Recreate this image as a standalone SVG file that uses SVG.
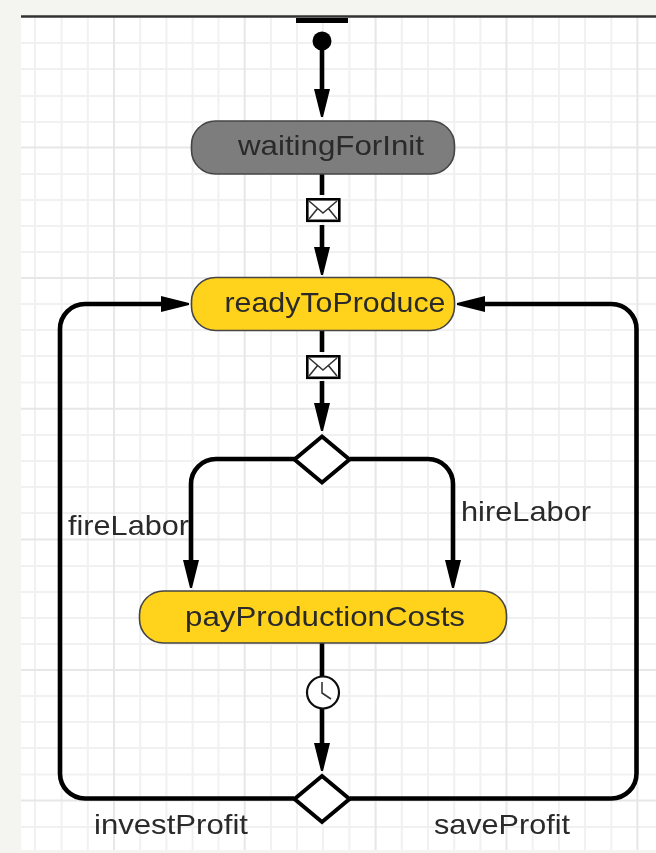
<svg xmlns="http://www.w3.org/2000/svg" width="656" height="853" viewBox="0 0 656 853">
<defs>
<style>
.gl{stroke:#f1f1f1;stroke-width:2;fill:none}
.gh{stroke:#e7e7e7;stroke-width:2;fill:none}
.c{stroke:#000;stroke-width:4.600;fill:none}
.d{stroke:#000;stroke-width:4;fill:#fff;stroke-linejoin:miter}
.s{stroke:#444;stroke-width:1.6}
.t{font-family:"Liberation Sans",Arial,sans-serif;font-size:28px;fill:#2a2a2a}
.ico{fill:#fff;stroke:#000;stroke-width:2.6}
.thin{fill:none;stroke:#333;stroke-width:1.6}
</style>
<filter id="soft" x="0" y="0" width="656" height="853" filterUnits="userSpaceOnUse"><feGaussianBlur stdDeviation="0.6"/></filter>
<path id="arrD" d="M-8 -28L8 -28L1 0H-1Z" fill="#000"/>
</defs>
<rect width="656" height="853" fill="#f4f4f0"/>
<g filter="url(#soft)">
<g id="grid">
<rect x="21" y="17" width="635" height="833" fill="#fff"/>
<path class="gl" d="M35 17V850M61.600 17V850M87.800 17V850M140.200 17V850M166.400 17V850M192.600 17V850M218.500 17V850M270.900 17V850M297 17V850M323 17V850M349.400 17V850M401.800 17V850M428 17V850M454.200 17V850M480.400 17V850M532.700 17V850M558.900 17V850M585.100 17V850M611.300 17V850"/>
<path class="gl" d="M21 43H656M21 69H656M21 96H656M21 122H656M21 174H656M21 200H656M21 226H656M21 252H656M21 304H656M21 330H656M21 356H656M21 382.500H656M21 435H656M21 461H656M21 487H656M21 513H656M21 566H656M21 592H656M21 618H656M21 644H656M21 696H656M21 722H656M21 748H656M21 774.500H656M21 827H656"/>
<path class="gh" d="M114 17V850M244.700 17V850M375.600 17V850M506.500 17V850M637.400 17V850M21 147.500H656M21 278H656M21 408.700H656M21 539.600H656M21 670H656M21 800.500H656"/>
<path d="M21 16.500H656" stroke="#333" stroke-width="2.400"/>
</g>
<g id="connectors">
<path class="c" d="M322 40V92"/><use href="#arrD" x="322" y="117"/>
<path class="c" d="M322 172V195"/>
<path class="c" d="M322 225V250"/><use href="#arrD" x="322" y="275"/>
<path class="c" d="M322 330V352"/>
<path class="c" d="M322 381V406"/><use href="#arrD" x="322" y="431"/>
<path class="c" d="M296 459H216A25 25 0 0 0 191 484V562"/><use href="#arrD" x="191" y="588"/>
<path class="c" d="M350 459H428A25 25 0 0 1 453 484V562"/><use href="#arrD" x="453" y="588"/>
<path class="c" d="M322 642V678"/>
<path class="c" d="M322 708V745"/><use href="#arrD" x="322" y="771"/>
<path class="c" d="M294 798.500H85A25 25 0 0 1 60 773.500V329A25 25 0 0 1 85 304H165"/><use href="#arrD" transform="translate(189 304) rotate(-90)"/>
<path class="c" d="M350 798.500H611.500A25 25 0 0 0 636.500 773.500V329A25 25 0 0 0 611.500 304H480"/><use href="#arrD" transform="translate(457 304) rotate(90)"/>
</g>
<g id="topbar"><rect x="296" y="18" width="52" height="5" fill="#000"/></g>
<g id="start"><circle cx="322" cy="41" r="9.500" fill="#000"/></g>
<g id="waitingForInit">
<rect class="s" x="191.500" y="121" width="263" height="53" rx="24" fill="#7d7d7d"/>
<text class="t" x="331" y="155" text-anchor="middle" textLength="186" lengthAdjust="spacingAndGlyphs">waitingForInit</text>
</g>
<g id="msg1">
<rect class="ico" x="307.300" y="199.300" width="32" height="21.500"/>
<path class="thin" d="M309 201L323 213L337 201M309 219L318 208M337 219L328 208"/>
</g>
<g id="readyToProduce">
<rect class="s" x="191.500" y="277.500" width="263" height="53" rx="24" fill="#ffd21f"/>
<text class="t" x="335" y="312" text-anchor="middle" textLength="221" lengthAdjust="spacingAndGlyphs">readyToProduce</text>
</g>
<g id="msg2">
<rect class="ico" x="307.300" y="356.300" width="32" height="21.500"/>
<path class="thin" d="M309 358L323 370L337 358M309 376L318 365M337 376L328 365"/>
</g>
<g id="decision1"><path class="d" d="M322 436.500L349.500 459.500L322 482.500L294.500 459.500Z"/></g>
<g id="fireLabor"><text class="t" x="68" y="535" textLength="121" lengthAdjust="spacingAndGlyphs">fireLabor</text></g>
<g id="hireLabor"><text class="t" x="461" y="521" textLength="130" lengthAdjust="spacingAndGlyphs">hireLabor</text></g>
<g id="payProductionCosts">
<rect class="s" x="139.500" y="591" width="367" height="52" rx="24" fill="#ffd21f"/>
<text class="t" x="325" y="626" text-anchor="middle" textLength="280" lengthAdjust="spacingAndGlyphs">payProductionCosts</text>
</g>
<g id="timer">
<circle cx="323" cy="692.500" r="16" fill="#fff" stroke="#111" stroke-width="2.200"/>
<path class="thin" d="M322 682V693L331 699"/>
</g>
<g id="decision2"><path class="d" d="M322 776L349.500 799L322 822L294.500 799Z"/></g>
<g id="investProfit"><text class="t" x="94" y="834" textLength="154" lengthAdjust="spacingAndGlyphs">investProfit</text></g>
<g id="saveProfit"><text class="t" x="434" y="834" textLength="136" lengthAdjust="spacingAndGlyphs">saveProfit</text></g>
</g>
</svg>
